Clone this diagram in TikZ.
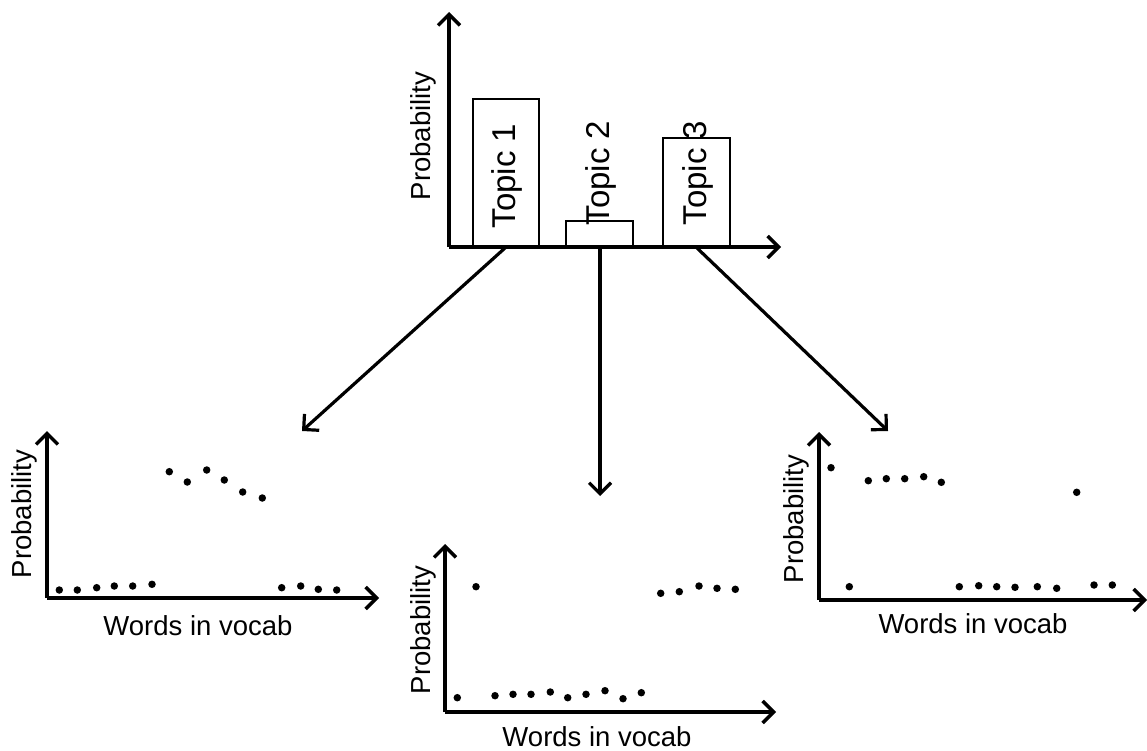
\documentclass[tikz,border=0pt]{standalone}
\usepackage{fontspec}
\setmainfont{Liberation Sans}
\usetikzlibrary{arrows.meta}
\begin{document}
\begin{tikzpicture}[x=1pt,y=-1pt,
  axis/.style={line width=3.5pt,-{Straight Barb[length=11pt,width=22pt,line width=3.5pt]}},
  conn/.style={line width=3.2pt,-{Straight Barb[length=11pt,width=22pt,line width=3.2pt]}},
  bar/.style={draw,line width=1.4pt},
  lbl/.style={inner sep=0pt,font=\fontsize{27.5}{30}\selectfont},
  topic/.style={inner sep=0pt,rotate=90,font=\fontsize{33}{35}\selectfont},
  dot/.style={circle,fill,inner sep=0pt,minimum size=7.5pt}]
\useasboundingbox (0,0) rectangle (1147,751);
% ---- top chart
\coordinate (To) at (449,247);
\draw[axis] (To) -- (449,12);
\draw[axis] (To) -- (781,247);
\draw[bar] (473,247) rectangle (539,99);
\draw[bar] (566,247) rectangle (633,221);
\draw[bar] (663,247) rectangle (730,138);
\node[lbl,rotate=90] (tp) at (423,136) {Probability};
\node[topic] (t1) at (507,176) {Topic 1};
\node[topic] (t2) at (601,173) {Topic 2};
\node[topic] (t3) at (698,173) {Topic 3};
\coordinate (s1) at (505,248);
\coordinate (s2) at (600,248);
\coordinate (s3) at (697,248);
\coordinate (e1) at (302,431);
\coordinate (e2) at (600,496);
\coordinate (e3) at (888,431);
\draw[conn] (s1) -- (e1);
\draw[conn] (s2) -- (e2);
\draw[conn] (s3) -- (e3);
% ---- bottom-left chart
\coordinate (Lo) at (47,598);
\draw[axis] (Lo) -- (47,431);
\draw[axis] (Lo) -- (379,598);
\node[lbl,rotate=90] (lp) at (24,514) {Probability};
\node[lbl,anchor=base] (lw) at (198,635) {Words in vocab};
\foreach \x/\y in {59.3/590,77.3/590,96.7/587.7,114.3/586,132.7/586,152/584.3,
  169.3/471.7,187.3/482,206.7/470,224.3/480,242.7/492,262.3/498,
  281.7/587.7,300.7/586,318.3/589.3,336.7/590}
  \node[dot] at (\x,\y) {};
% ---- bottom-middle chart
\coordinate (Mo) at (445,712);
\draw[axis] (Mo) -- (445,544);
\draw[axis] (Mo) -- (776,712);
\node[lbl,rotate=90] (mp) at (423,630) {Probability};
\node[lbl,anchor=base] (mw) at (597,746) {Words in vocab};
\foreach \x/\y in {457.3/697.7,476/586.7,495/695.7,513/694.3,531/694.3,550.3/692,
  567.7/697.7,586/694.3,605/690.7,623/698.7,641.3/692.7,
  660.7/593.3,679.3/591.7,699/586,717/588.3,735.3/589.3}
  \node[dot] at (\x,\y) {};
% ---- bottom-right chart
\coordinate (Ro) at (819,600);
\draw[axis] (Ro) -- (819,432);
\draw[axis] (Ro) -- (1147,600);
\node[lbl,rotate=90] (rp) at (796,519) {Probability};
\node[lbl,anchor=base] (rw) at (973,633) {Words in vocab};
\foreach \x/\y in {831/467.7,849.3/586.7,868.3/480.7,886.3/478.7,904.7/478.7,923.7/476.7,
  941.3/482.3,959.3/586.7,978.7/585.7,996.7/586.7,1015/587.3,1037.3/586.7,
  1056.7/588.3,1076.7/492.3,1094/585,1112.3/585}
  \node[dot] at (\x,\y) {};
\end{tikzpicture}
\end{document}
